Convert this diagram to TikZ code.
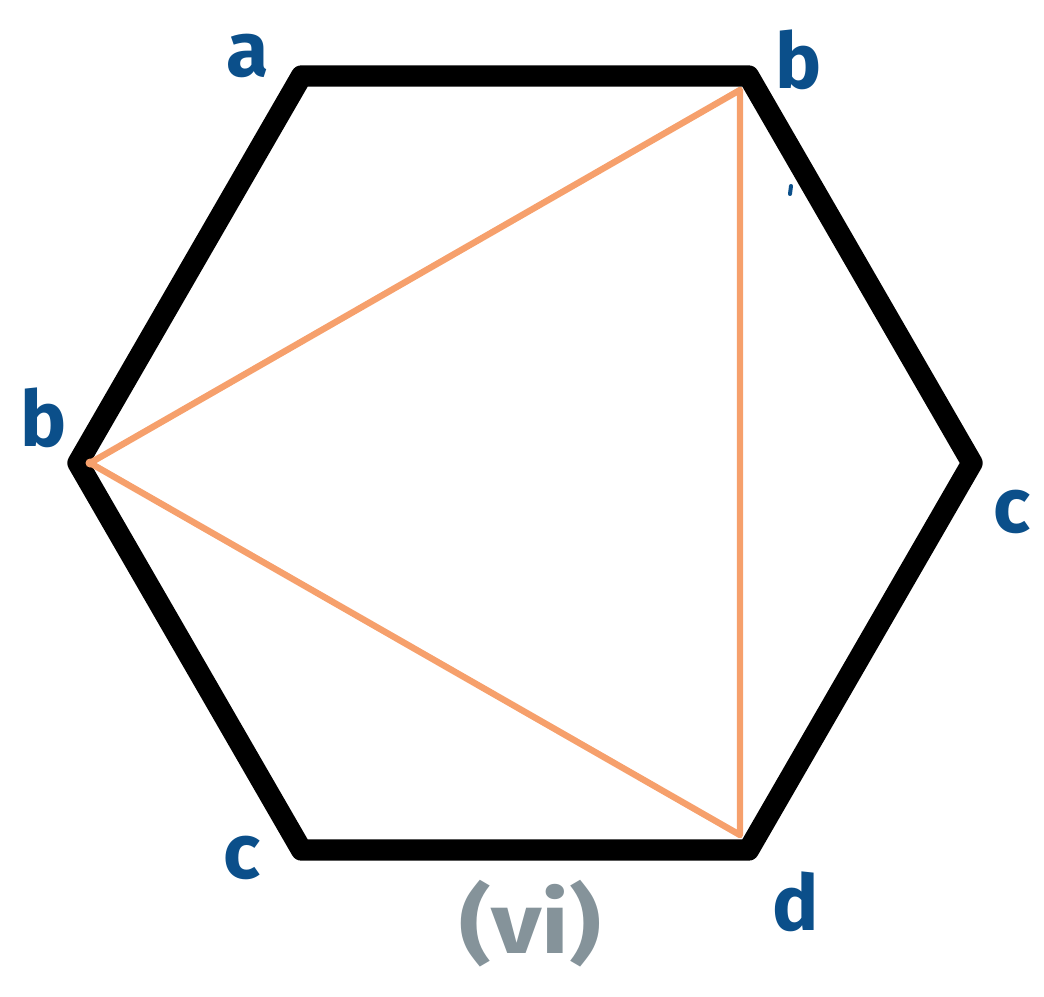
\documentclass[tikz,border=0pt]{standalone}
\usepackage{fontspec}
\setmainfont{Fira Sans}
\definecolor{lblue}{HTML}{0B4F8A}
\definecolor{lgray}{HTML}{85939A}
\definecolor{lorange}{HTML}{F6A06C}
\begin{document}
\begin{tikzpicture}[x=0.75pt,y=-0.75pt,
  hexline/.style={line width=16pt,line join=round,black},
  triline/.style={line width=4.8pt,lorange,line join=round,line cap=round},
  vlabel/.style={text=lblue,font=\fontsize{58}{60}\selectfont\bfseries,inner sep=0pt},
  caption/.style={text=lgray,font=\fontsize{64}{66}\selectfont\bfseries,inner sep=0pt}]
\useasboundingbox (0,0) rectangle (1044,996);
\coordinate (A) at (301.5,76);
\coordinate (B) at (748.5,76);
\coordinate (C) at (972,463);
\coordinate (D) at (748.5,850);
\coordinate (E) at (301.5,850);
\coordinate (F) at (78,463);
\draw[hexline] (A) -- (B) -- (C) -- (D) -- (E) -- (F) -- cycle;
\coordinate (T1) at (740,90);
\coordinate (T2) at (90,463);
\coordinate (T3) at (740,835);
\draw[triline] (T1) -- (T2) -- (T3) -- cycle;
\fill[lorange] (T2) circle (4.5);
\node[vlabel] (la) at (248,56) {a};
\node[vlabel] (lb1) at (799,60) {b};
\node[vlabel] (lb2) at (44,418) {b};
\node[vlabel] (lc1) at (1012,512) {c};
\node[vlabel] (lc2) at (242,858) {c};
\node[vlabel] (ld) at (796,902) {d};
\node[caption,xscale=1.15] (cap) at (530,924) {(vi)};
\draw[lblue,line width=3pt,line cap=round] (791,186) -- (790,194);
\end{tikzpicture}
\end{document}
